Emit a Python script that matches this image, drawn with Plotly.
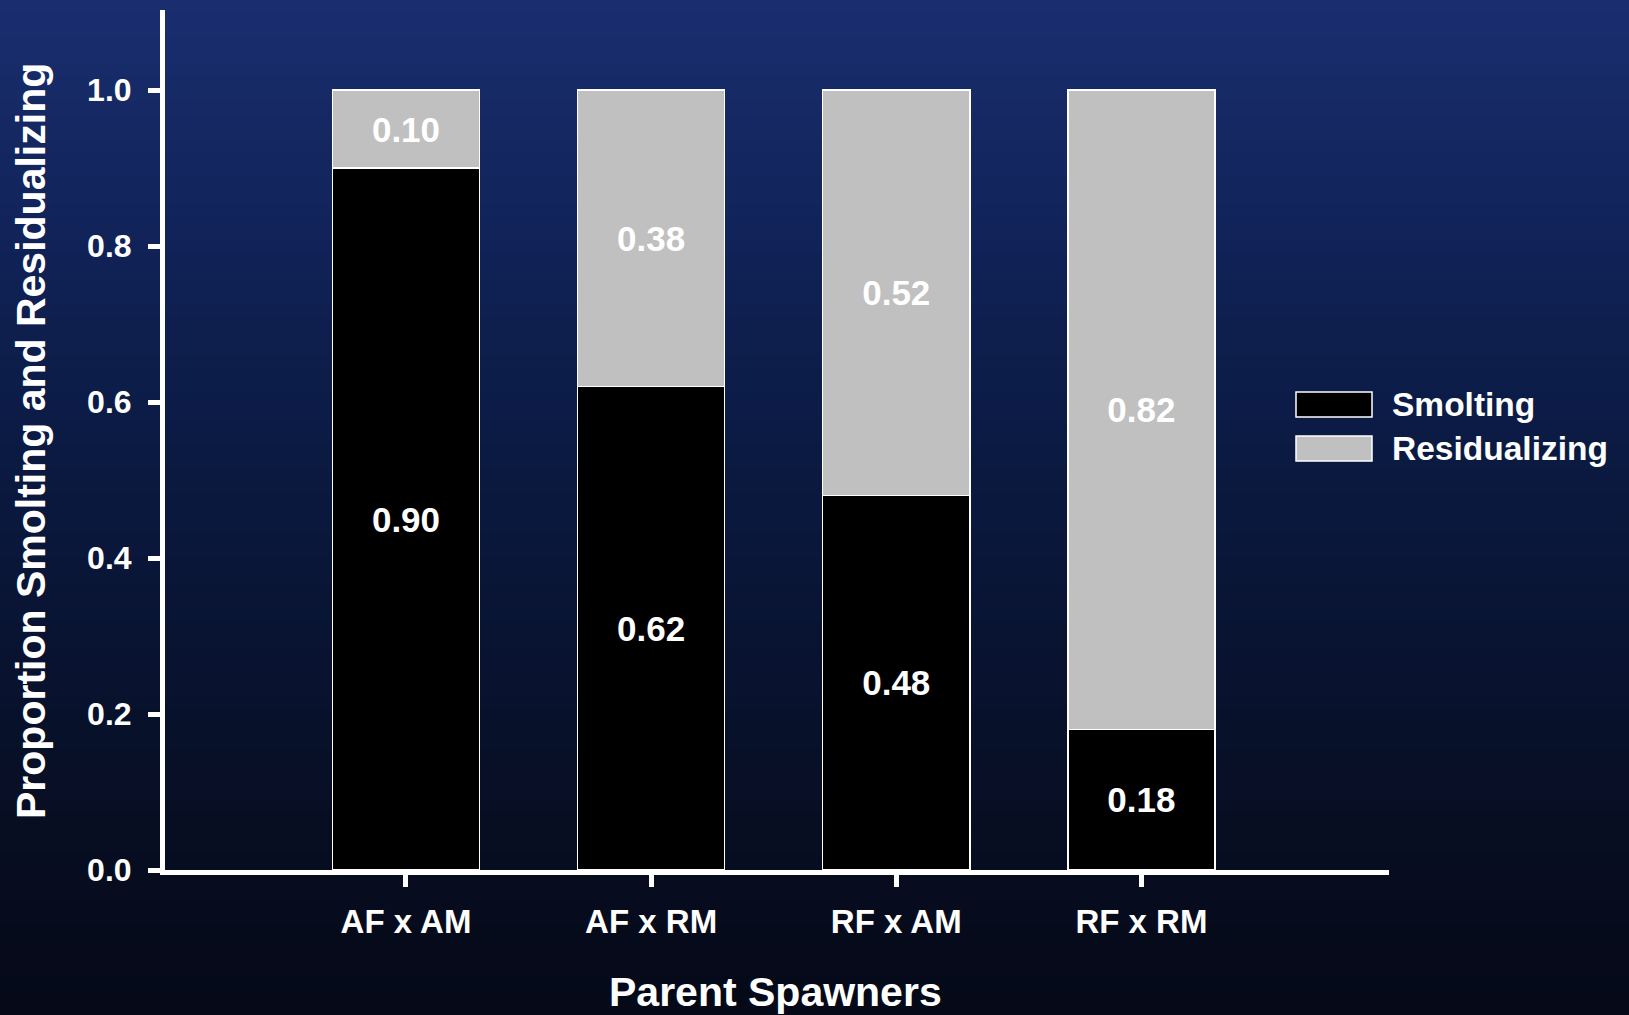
import plotly.graph_objects as go

# Parent cross categories and outcome proportions
crosses = ["AF x AM", "AF x RM", "RF x AM", "RF x RM"]
smolting = [0.90, 0.62, 0.48, 0.18]
residualizing = [0.10, 0.38, 0.52, 0.82]
y_ticks = [0.0, 0.2, 0.4, 0.6, 0.8, 1.0]

FONT = "Arial, Liberation Sans, sans-serif"
W, H = 1629, 1015
L, R, T, B = 165, 240, 10, 145
plot_w, plot_h = W - L - R, H - T - B

fig = go.Figure()

bar_line = dict(color="white", width=1.5)
label_font = dict(family=FONT, size=35, color="white", weight="bold")

fig.add_trace(go.Bar(
    x=crosses, y=smolting, name="Smolting",
    marker=dict(color="black", line=bar_line),
    width=0.6,
    texttemplate="%{y:.2f}", textposition="inside", insidetextanchor="middle",
    textangle=0, textfont=label_font, showlegend=False, hoverinfo="skip",
))
fig.add_trace(go.Bar(
    x=crosses, y=residualizing, name="Residualizing",
    marker=dict(color="#c0c0c0", line=bar_line),
    width=0.6,
    texttemplate="%{y:.2f}", textposition="inside", insidetextanchor="middle",
    textangle=0, textfont=label_font, showlegend=False, hoverinfo="skip",
))


def px_to_paper_y(py):
    return (H - B - py) / plot_h


def px_to_paper_x(px):
    return (px - L) / plot_w


def lerp_color(stops, f):
    for (f0, c0), (f1, c1) in zip(stops, stops[1:]):
        if f <= f1:
            t = (f - f0) / (f1 - f0) if f1 > f0 else 0
            return "rgb(%d,%d,%d)" % tuple(round(a + (b - a) * t) for a, b in zip(c0, c1))
    return "rgb(%d,%d,%d)" % stops[-1][1]


# Deep navy backdrop, lighter toward the top
bg_stops = [
    (0.00, (26, 46, 112)),
    (0.25, (16, 34, 86)),
    (0.45, (11, 26, 66)),
    (0.65, (9, 19, 48)),
    (0.85, (7, 13, 32)),
    (1.00, (5, 9, 24)),
]
shapes = []
n_bands = 80
for i in range(n_bands):
    y0 = H * i / n_bands
    y1 = H * (i + 1) / n_bands + 1
    shapes.append(dict(
        type="rect", xref="paper", yref="paper", layer="below",
        x0=px_to_paper_x(-5), x1=px_to_paper_x(W + 5),
        y0=px_to_paper_y(y1), y1=px_to_paper_y(y0),
        fillcolor=lerp_color(bg_stops, (i + 0.5) / n_bands), line=dict(width=0),
    ))

# Legend swatches with labels
legend_items = [("Smolting", "black", 392, 417), ("Residualizing", "#c0c0c0", 436, 461)]
annotations = []
for label, color, top, bottom in legend_items:
    shapes.append(dict(
        type="rect", xref="paper", yref="paper",
        x0=px_to_paper_x(1296), x1=px_to_paper_x(1372),
        y0=px_to_paper_y(bottom), y1=px_to_paper_y(top),
        fillcolor=color, line=dict(color="white", width=1.5),
    ))
    annotations.append(dict(
        text=label, xref="paper", yref="paper",
        x=px_to_paper_x(1390), y=px_to_paper_y((top + bottom) / 2),
        xanchor="left", yanchor="middle", showarrow=False,
        font=dict(family=FONT, size=33.5, color="white", weight="bold"),
    ))

# Axis titles
annotations.append(dict(
    text="Parent Spawners", xref="paper", yref="paper",
    x=px_to_paper_x(775), y=px_to_paper_y(992),
    xanchor="center", yanchor="middle", showarrow=False,
    font=dict(family=FONT, size=41, color="white", weight="bold"),
))
annotations.append(dict(
    text="Proportion Smolting and Residualizing", xref="paper", yref="paper",
    x=px_to_paper_x(31), y=px_to_paper_y(441), textangle=-90,
    xanchor="center", yanchor="middle", showarrow=False,
    font=dict(family=FONT, size=41, color="white", weight="bold"),
))

fig.update_layout(
    width=W, height=H,
    margin=dict(l=L, r=R, t=T, b=B),
    barmode="stack",
    paper_bgcolor="rgb(8,16,40)",
    plot_bgcolor="rgba(0,0,0,0)",
    shapes=shapes,
    annotations=annotations,
    showlegend=False,
)

fig.update_xaxes(
    range=[-0.983, 4.01], showgrid=False, zeroline=False,
    showline=True, linecolor="white", linewidth=5,
    ticks="outside", ticklen=12, tickwidth=5, tickcolor="white",
    ticklabelstandoff=6,
    tickfont=dict(family=FONT, size=33, color="white", weight="bold"),
)
fig.update_yaxes(
    range=[0, 1.1026], showgrid=False, zeroline=False,
    showline=True, linecolor="white", linewidth=5,
    ticks="outside", ticklen=12, tickwidth=5, tickcolor="white",
    tickvals=y_ticks, ticktext=["%.1f" % v for v in y_ticks],
    ticklabelstandoff=10,
    tickfont=dict(family=FONT, size=32, color="white", weight="bold"),
)

fig.write_html("out.html")
